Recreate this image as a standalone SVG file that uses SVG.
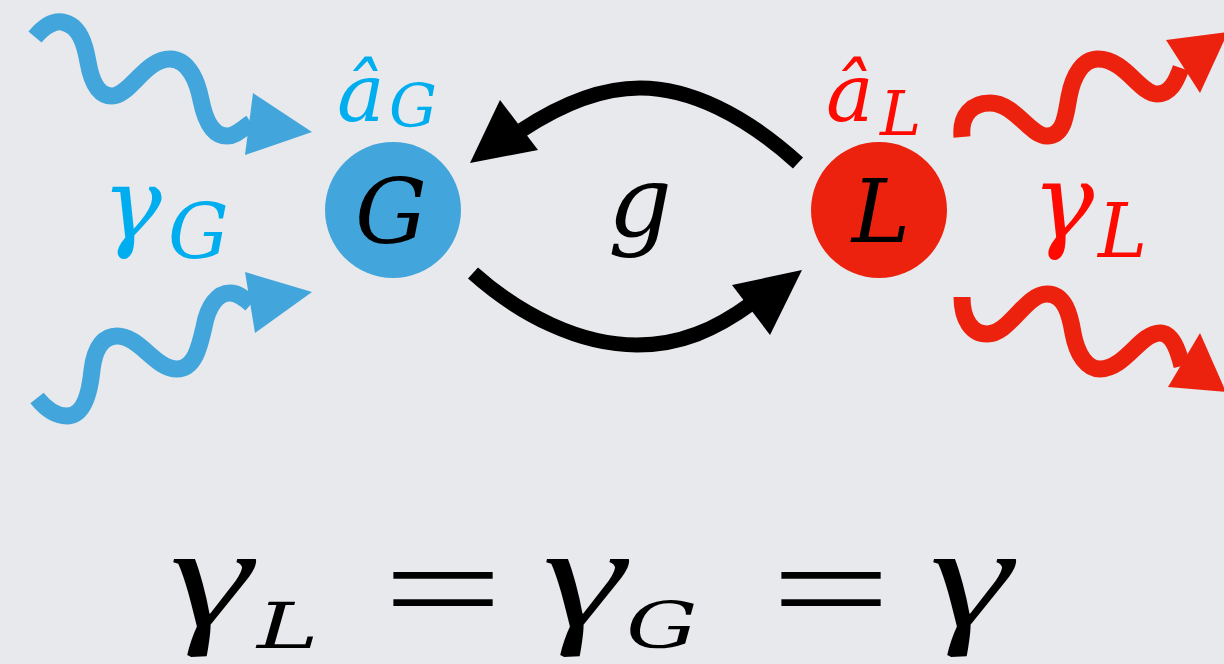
<svg xmlns="http://www.w3.org/2000/svg" width="1224" height="664" viewBox="0 0 1224 664">
<style>
.bg{fill:#e7e9ec}
.wb{fill:none;stroke:#42a5db;stroke-width:17}
.wr{fill:none;stroke:#ec220f;stroke-width:17}
.hb{fill:#42a5db}
.hr{fill:#ec220f}
.ck{fill:none;stroke:#000;stroke-width:15}
.hk{fill:#000}
.m{font-family:"DejaVu Serif",serif;font-style:italic}
.t{font-family:"Liberation Serif","Times New Roman",serif;font-style:normal}
.cy{fill:#00aeef}
.rd{fill:#ff0a00}
.bk{fill:#000}
</style>
<rect class="bg" x="0" y="0" width="1224" height="664"/>

<g id="connectors">
  <g id="coupling-L-to-G">
    <path class="ck" d="M798,163 C745,115 690,88 640,88 C600,88 560,105 522,130"/>
    <polygon class="hk" points="500,100 538,150 470,163"/>
  </g>
  <g id="coupling-G-to-L">
    <path class="ck" d="M473,273 C520,315 580,345 637,345 C680,345 715,330 752,303"/>
    <polygon class="hk" points="732,285 802,270 770,335"/>
  </g>
  <g id="wave-G-in-top">
    <path class="wb" d="M35,37 C45,25 55,21 62,22 C80,25 85,45 88,62 C92,85 100,96 112,96 C130,96 145,59 170,59 C190,59 198,85 201,100 C205,120 212,136 227,136 C236,136 243,128 251,123"/>
    <polygon class="hb" points="253,93 312,132 245,155"/>
  </g>
  <g id="wave-G-in-bottom">
    <path class="wb" d="M37,398 C45,408 55,416 67,416 C85,416 90,390 92,370 C95,345 105,336 117,336 C140,336 155,369 177,369 C195,369 200,345 204,327 C208,305 218,293 230,293 C238,293 244,298 251,304"/>
    <polygon class="hb" points="245,272 312,292 255,333"/>
  </g>
  <g id="wave-L-out-top">
    <path class="wr" d="M962,137 C960,115 972,103 990,103 C1015,103 1030,136 1047,136 C1065,136 1066,112 1069,97 C1073,75 1083,59 1098,59 C1125,59 1140,94 1157,94 C1170,94 1176,82 1181,68"/>
    <polygon class="hr" points="1166,40 1228,32 1200,93"/>
  </g>
  <g id="wave-L-out-bottom">
    <path class="wr" d="M962,297 C962,320 972,334 987,334 C1010,334 1025,294 1047,294 C1065,294 1070,315 1073,333 C1077,355 1087,369 1100,369 C1125,369 1140,333 1160,333 C1172,333 1178,350 1182,366"/>
    <polygon class="hr" points="1200,333 1226,392 1168,387"/>
  </g>
</g>

<g id="node-G">
  <circle cx="393" cy="210" r="68" fill="#42a5db"/>
  <text class="m bk" x="391" y="243" font-size="90" text-anchor="middle">G</text>
</g>
<g id="node-L">
  <circle cx="879" cy="210" r="68" fill="#ec220f"/>
  <text class="m bk" x="881" y="242" font-size="88" text-anchor="middle">L</text>
</g>

<g id="label-aG">
  <text class="m cy" x="337" y="121" font-size="80">â</text>
  <text class="m cy" x="389" y="127" font-size="60">G</text>
</g>
<g id="label-aL">
  <text class="m rd" x="826" y="121" font-size="80">â</text>
  <text class="m rd" x="880" y="135" font-size="62">L</text>
</g>
<g id="label-gammaG">
  <text class="m cy" x="102" y="238" font-size="100">γ</text>
  <text class="m cy" x="168" y="258" font-size="76">G</text>
</g>
<g id="label-gammaL">
  <text class="m rd" x="1032" y="238" font-size="104">γ</text>
  <text class="m rd" x="1098" y="257" font-size="74">L</text>
</g>
<g id="label-g">
  <text class="m bk" x="640" y="236" font-size="100" text-anchor="middle">g</text>
</g>

<g id="equation">
  <text class="t bk" transform="translate(160,626) skewX(-12) scale(1.35,1)" x="0" y="0" font-size="146">γ</text>
  <text class="m bk" transform="translate(257,648) scale(1.45,1)" x="0" y="0" font-size="64">L</text>
  <text class="t bk" transform="translate(443,634) scale(1.58,1)" x="0" y="0" font-size="135" text-anchor="middle">=</text>
  <text class="t bk" transform="translate(533,626) skewX(-12) scale(1.35,1)" x="0" y="0" font-size="146">γ</text>
  <text class="m bk" transform="translate(626,648) scale(1.4,1)" x="0" y="0" font-size="64">G</text>
  <text class="t bk" transform="translate(831,634) scale(1.58,1)" x="0" y="0" font-size="135" text-anchor="middle">=</text>
  <text class="t bk" transform="translate(920,626) skewX(-12) scale(1.35,1)" x="0" y="0" font-size="146">γ</text>
</g>
</svg>
